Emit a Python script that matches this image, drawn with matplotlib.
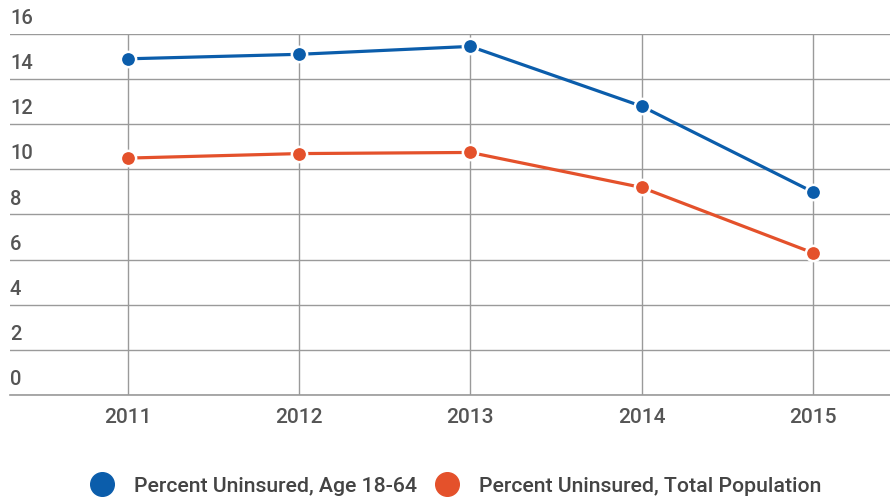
import matplotlib.pyplot as plt
from matplotlib.lines import Line2D
from matplotlib import transforms

plt.rcParams['font.family'] = ['Roboto', 'DejaVu Sans']

jaren = [2011, 2012, 2013, 2014, 2015]
onverzekerd_18_64 = [14.9, 15.1, 15.45, 12.8, 9.0]
onverzekerd_totaal = [10.5, 10.7, 10.75, 9.2, 6.3]
y_ticks = [0, 2, 4, 6, 8, 10, 12, 14, 16]
labels = ["Percent Uninsured, Age 18-64", "Percent Uninsured, Total Population"]

blauw = '#0B5DAB'
oranje = '#E4512B'
tekst_kleur = '#555555'

fig = plt.figure(figsize=(8.9, 4.98), dpi=100)
ax = fig.add_axes([10 / 890, 103 / 498, 880 / 890, 361 / 498])

ax.plot(jaren, onverzekerd_18_64, color=blauw, lw=2.3, marker='o', ms=11,
        mfc=blauw, mec='white', mew=1.8, zorder=3)
ax.plot(jaren, onverzekerd_totaal, color=oranje, lw=2.3, marker='o', ms=11,
        mfc=oranje, mec='white', mew=1.8, zorder=3)

ax.set_xlim(2010.313, 2015.45)
ax.set_ylim(0, 16)
ax.set_xticks(jaren)
ax.set_yticks(y_ticks)
ax.set_yticklabels([])
ax.grid(True, color='#9a9a9a', lw=1)
ax.tick_params(length=0)
ax.tick_params(axis='x', pad=9, labelsize=15, labelcolor=tekst_kleur)
for lbl in ax.get_xticklabels():
    lbl.set_fontweight('medium')
for s in ['top', 'right', 'left']:
    ax.spines[s].set_visible(False)
ax.spines['bottom'].set_color('#9a9a9a')
ax.spines['bottom'].set_linewidth(1.2)

# y labels sit above the gridlines, inside the plot
trans = transforms.blended_transform_factory(ax.transAxes, ax.transData)
trans = transforms.offset_copy(trans, fig=fig, x=0, y=6, units='dots')
for t in y_ticks:
    ax.text(0, t, str(t), transform=trans, ha='left', va='bottom',
            fontsize=14.5, fontweight='medium', color=tekst_kleur)

handles = [Line2D([], [], ls='none', marker='o', ms=17, color=blauw),
           Line2D([], [], ls='none', marker='o', ms=17, color=oranje)]
leg = fig.legend(handles, labels, loc='center', bbox_to_anchor=(0.513, 0.024),
                 ncol=2, frameon=False, fontsize=15.3, labelcolor='#444444',
                 handletextpad=1.0, columnspacing=0.9, handlelength=1.0,
                 borderpad=0, borderaxespad=0)
for txt in leg.get_texts():
    txt.set_fontweight('medium')

fig.savefig('out.png', dpi=100)
